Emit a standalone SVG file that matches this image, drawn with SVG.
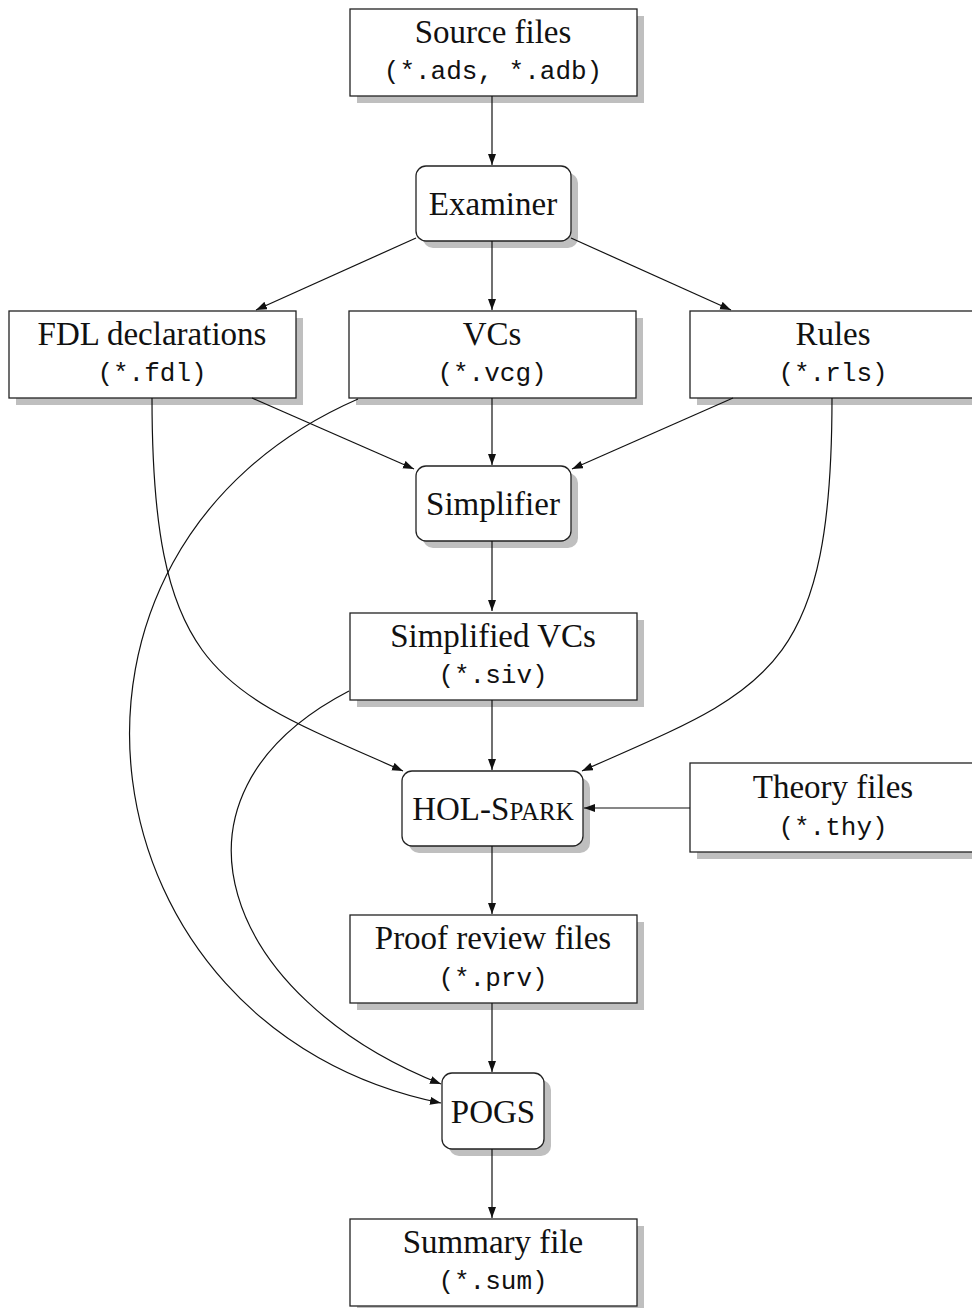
<svg xmlns="http://www.w3.org/2000/svg" width="972" height="1308" viewBox="0 0 972 1308">
<defs>
<style>
.box{fill:#fff;stroke:#222;stroke-width:1.3}
.sh{fill:#bfbfbf;stroke:none}
.t{font-family:"Liberation Serif","Times New Roman",serif;font-size:33px;fill:#111;text-anchor:middle}
.m{font-family:"Liberation Mono","Courier New",monospace;font-size:26px;fill:#111;text-anchor:middle}
.c{fill:none;stroke:#111;stroke-width:1.2}
</style>
<marker id="ah" markerWidth="12" markerHeight="10" refX="11" refY="4" orient="auto" markerUnits="userSpaceOnUse">
<path d="M0,0 L11,4 L0,8 Z" fill="#111"/>
</marker>
</defs>
<rect width="972" height="1308" fill="#fff"/>
<g id="source">
<rect class="sh" x="357" y="16" width="287" height="87"/>
<rect class="box" x="350" y="9" width="287" height="87"/>
<text class="t" x="493" y="43">Source files</text>
<text class="m" x="493" y="79">(*.ads, *.adb)</text>
</g>
<g id="examiner">
<rect class="sh" x="423" y="173" width="155" height="75" rx="10"/>
<rect class="box" x="416" y="166" width="155" height="75" rx="10"/>
<text class="t" x="493" y="215">Examiner</text>
</g>
<g id="fdl">
<rect class="sh" x="16" y="318" width="287" height="87"/>
<rect class="box" x="9" y="311" width="287" height="87"/>
<text class="t" x="152" y="345">FDL declarations</text>
<text class="m" x="152" y="381">(*.fdl)</text>
</g>
<g id="vcs">
<rect class="sh" x="356" y="318" width="287" height="87"/>
<rect class="box" x="349" y="311" width="287" height="87"/>
<text class="t" x="492" y="345">VCs</text>
<text class="m" x="492" y="381">(*.vcg)</text>
</g>
<g id="rules">
<rect class="sh" x="697" y="318" width="287" height="87"/>
<rect class="box" x="690" y="311" width="287" height="87"/>
<text class="t" x="833" y="345">Rules</text>
<text class="m" x="833" y="381">(*.rls)</text>
</g>
<g id="simplifier">
<rect class="sh" x="423" y="473" width="155" height="75" rx="10"/>
<rect class="box" x="416" y="466" width="155" height="75" rx="10"/>
<text class="t" x="493" y="515">Simplifier</text>
</g>
<g id="simplified">
<rect class="sh" x="357" y="620" width="287" height="87"/>
<rect class="box" x="350" y="613" width="287" height="87"/>
<text class="t" x="493" y="647">Simplified VCs</text>
<text class="m" x="493" y="683">(*.siv)</text>
</g>
<g id="holspark">
<rect class="sh" x="409" y="778" width="181" height="75" rx="10"/>
<rect class="box" x="402" y="771" width="181" height="75" rx="10"/>
<text class="t" x="493" y="820">HOL-S<tspan font-size="25">PARK</tspan></text>
</g>
<g id="theory">
<rect class="sh" x="697" y="770" width="287" height="89"/>
<rect class="box" x="690" y="763" width="287" height="89"/>
<text class="t" x="833" y="798">Theory files</text>
<text class="m" x="833" y="835">(*.thy)</text>
</g>
<g id="proof">
<rect class="sh" x="357" y="922" width="287" height="88"/>
<rect class="box" x="350" y="915" width="287" height="88"/>
<text class="t" x="493" y="949">Proof review files</text>
<text class="m" x="493" y="986">(*.prv)</text>
</g>
<g id="pogs">
<rect class="sh" x="449" y="1080" width="102" height="76" rx="10"/>
<rect class="box" x="442" y="1073" width="102" height="76" rx="10"/>
<text class="t" x="493" y="1123">POGS</text>
</g>
<g id="summary">
<rect class="sh" x="357" y="1226" width="287" height="87"/>
<rect class="box" x="350" y="1219" width="287" height="87"/>
<text class="t" x="493" y="1253">Summary file</text>
<text class="m" x="493" y="1289">(*.sum)</text>
</g>
<g id="connectors">
<line class="c" x1="492" y1="96" x2="492" y2="165" marker-end="url(#ah)"/>
<line class="c" x1="416" y1="238" x2="256" y2="310" marker-end="url(#ah)"/>
<line class="c" x1="492" y1="241" x2="492" y2="310" marker-end="url(#ah)"/>
<line class="c" x1="571" y1="238" x2="731" y2="310" marker-end="url(#ah)"/>
<line class="c" x1="252" y1="398" x2="414" y2="469" marker-end="url(#ah)"/>
<line class="c" x1="492" y1="398" x2="492" y2="465" marker-end="url(#ah)"/>
<line class="c" x1="733" y1="398" x2="572" y2="469" marker-end="url(#ah)"/>
<line class="c" x1="492" y1="541" x2="492" y2="611" marker-end="url(#ah)"/>
<line class="c" x1="492" y1="700" x2="492" y2="770" marker-end="url(#ah)"/>
<line class="c" x1="690" y1="808" x2="584" y2="808" marker-end="url(#ah)"/>
<line class="c" x1="492" y1="846" x2="492" y2="914" marker-end="url(#ah)"/>
<line class="c" x1="492" y1="1003" x2="492" y2="1072" marker-end="url(#ah)"/>
<line class="c" x1="492" y1="1149" x2="492" y2="1218" marker-end="url(#ah)"/>
<path class="c" d="M152,398 C152,678 221,690 403,771" marker-end="url(#ah)"/>
<path class="c" d="M832,398 C832,678 763,690 582,771" marker-end="url(#ah)"/>
<path class="c" d="M358,399 C10,551 77,1029 441,1103" marker-end="url(#ah)"/>
<path class="c" d="M349,691 C145,797 226,999 441,1084" marker-end="url(#ah)"/>
</g>
</svg>
